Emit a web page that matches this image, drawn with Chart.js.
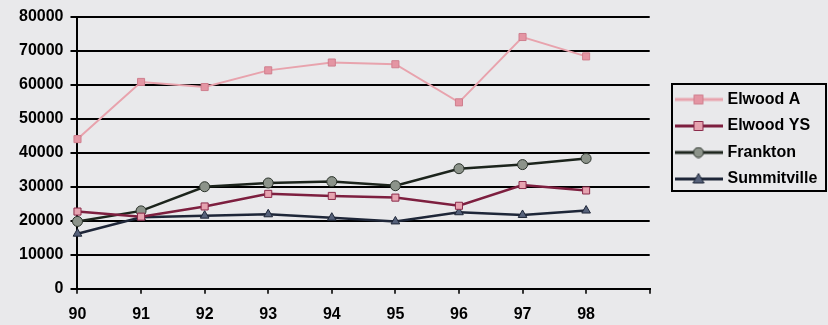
<!DOCTYPE html>
<html>
<head>
<meta charset="utf-8">
<script src="https://cdn.jsdelivr.net/npm/chart.js@4.4.0/dist/chart.umd.min.js"></script>
<style>
  html, body { margin: 0; padding: 0; background: #e9e9eb; }
  #wrap { width: 828px; height: 325px; position: relative; }
</style>
</head>
<body>
<div id="wrap"><canvas id="myLineChart"></canvas></div>
<script>
// years along the bottom; the last slot is an empty tick at the axis end
const years = ['90', '91', '92', '93', '94', '95', '96', '97', '98', ''];

const elwoodA = [44000, 60800, 59300, 64200, 66500, 66000, 54800, 74000, 68300];
const elwoodYS = [22700, 21200, 24200, 27900, 27300, 26800, 24400, 30500, 28900];
const frankton = [19800, 22900, 30000, 31100, 31500, 30300, 35300, 36500, 38300];
const summitville = [16200, 21000, 21500, 21900, 20900, 19800, 22500, 21700, 23000];

const seriesNames = ['Elwood A', 'Elwood YS', 'Frankton', 'Summitville'];

// small line+marker pictures for the legend
function legendIcon(lineColor, shape, fill, stroke) {
    const c = document.createElement('canvas');
    c.width = 48;
    c.height = 12;
    const g = c.getContext('2d');
    g.strokeStyle = lineColor;
    g.lineWidth = 3;
    g.beginPath();
    g.moveTo(0, 6);
    g.lineTo(48, 6);
    g.stroke();
    g.fillStyle = fill;
    g.strokeStyle = stroke;
    g.lineWidth = 1;
    g.beginPath();
    if (shape === 'rect') {
        g.rect(19.5, 1.5, 9, 9);
    } else if (shape === 'circle') {
        g.arc(24, 6, 5, 0, Math.PI * 2);
    } else {
        g.moveTo(24, 0.5);
        g.lineTo(29.5, 10);
        g.lineTo(18.5, 10);
        g.closePath();
    }
    g.fill();
    g.stroke();
    return c;
}

const icons = [
    legendIcon('#e8a3ad', 'rect', '#e495a3', '#cf7f8e'),
    legendIcon('#7d1f3f', 'rect', '#e6a3b0', '#8b2a4a'),
    legendIcon('#1c241c', 'circle', '#8c938a', '#2a322a'),
    legendIcon('#1e2638', 'triangle', '#56617a', '#1e2638')
];

// move the legend to where it sits in the picture and frame it
const legendFrame = {
    id: 'legendFrame',
    afterLayout(chart) {
        const l = chart.legend;
        const w = l.width, h = l.height;
        l.left = 667;
        l.top = 81;
        l.right = l.left + w;
        l.bottom = l.top + Math.max(h, 130);
    },
    afterDraw(chart) {
        const ctx = chart.ctx;
        ctx.save();
        ctx.strokeStyle = '#000';
        ctx.lineWidth = 2;
        ctx.strokeRect(672, 84, 154, 107);
        ctx.restore();
    }
};

Chart.defaults.font.family = '"Liberation Sans", Arial, sans-serif';
Chart.defaults.font.weight = 'bold';
Chart.defaults.font.size = 16;
Chart.defaults.color = '#000';

function renderLineChart() {
    const ctx = document.getElementById('myLineChart').getContext('2d');

    new Chart(ctx, {
        type: 'line',
        data: {
            labels: years,
            datasets: [{
                label: seriesNames[0],
                data: elwoodA,
                borderColor: '#e8a3ad',
                borderWidth: 2,
                pointStyle: 'rect',
                pointRadius: 5,
                pointBackgroundColor: '#e495a3',
                pointBorderColor: '#cf7f8e',
                pointBorderWidth: 1
            }, {
                label: seriesNames[1],
                data: elwoodYS,
                borderColor: '#7d1f3f',
                borderWidth: 2.5,
                pointStyle: 'rect',
                pointRadius: 5,
                pointBackgroundColor: '#e6a3b0',
                pointBorderColor: '#8b2a4a',
                pointBorderWidth: 1
            }, {
                label: seriesNames[2],
                data: frankton,
                borderColor: '#1c241c',
                borderWidth: 2.5,
                pointStyle: 'circle',
                pointRadius: 5,
                pointBackgroundColor: '#8c938a',
                pointBorderColor: '#2a322a',
                pointBorderWidth: 1
            }, {
                label: seriesNames[3],
                data: summitville,
                borderColor: '#1e2638',
                borderWidth: 2.5,
                pointStyle: 'triangle',
                pointRadius: 5,
                pointBackgroundColor: '#56617a',
                pointBorderColor: '#1e2638',
                pointBorderWidth: 1
            }]
        },
        options: {
            responsive: true,
            maintainAspectRatio: false,
            animation: false,
            layout: {
                padding: { left: 12, right: 18, top: -2, bottom: -10 }
            },
            elements: { line: { tension: 0 } },
            scales: {
                x: {
                    offset: false,
                    border: { color: '#000', width: 2 },
                    grid: { drawOnChartArea: false, drawTicks: true, tickLength: 5, color: '#333', lineWidth: 2 },
                    ticks: { maxRotation: 0, autoSkip: false, padding: 11 }
                },
                y: {
                    min: 0,
                    max: 80000,
                    border: { color: '#000', width: 2 },
                    grid: { color: '#000', lineWidth: 2, tickLength: 7 },
                    ticks: { stepSize: 10000, padding: 7, callback: (v) => String(v) }
                }
            },
            plugins: {
                tooltip: { enabled: false },
                legend: {
                    position: 'right',
                    align: 'start',
                    labels: {
                        usePointStyle: true,
                        pointStyleWidth: 42,
                        padding: 10.5,
                        generateLabels: (chart) =>
                            Chart.defaults.plugins.legend.labels.generateLabels(chart)
                                .map((item, i) => Object.assign(item, { pointStyle: icons[i] }))
                    }
                }
            }
        },
        plugins: [legendFrame]
    });
}

document.addEventListener('DOMContentLoaded', renderLineChart);
</script>
</body>
</html>
